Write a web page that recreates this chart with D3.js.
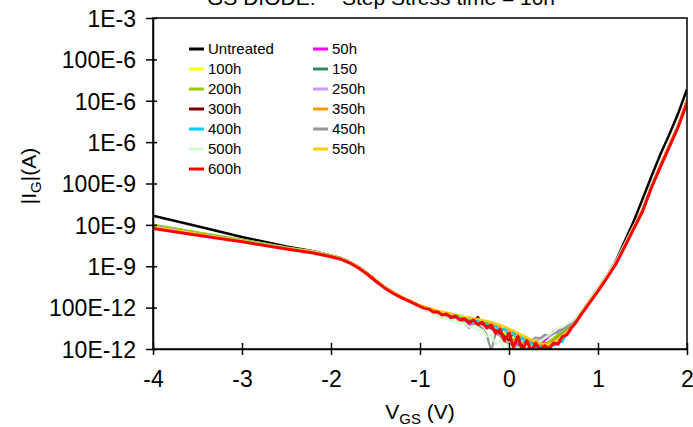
<!DOCTYPE html>
<html><head><meta charset="utf-8">
<script src="https://cdn.jsdelivr.net/npm/d3@7"></script>
<style>
body{margin:0;background:#fff}
svg{display:block}
text{font-family:"Liberation Sans",Arial,Helvetica,sans-serif;fill:#000}
</style>
</head><body>
<svg id="chart" width="693" height="427"></svg>
<script>
// ---------------- DATA ----------------
const vgs = [-4,-3.5,-3,-2.5,-2.2,-2,-1.9,-1.8,-1.7,-1.6,-1.5,-1.4,-1.3,-1.2,-1.1,
  -1,-0.95,-0.9,-0.85,-0.8,-0.75,-0.7,-0.65,-0.6,-0.55,-0.5,-0.45,-0.4,-0.35,-0.3,-0.25,-0.2,-0.15,-0.1,-0.05,
  0,0.05,0.1,0.15,0.2,0.25,0.3,0.35,0.4,0.45,0.5,0.55,0.6,0.65,0.7,0.75,
  0.8,0.9,1,1.1,1.2,1.3,1.4,1.5,1.6,1.7,1.8,1.9,2];

const seriesNames  = ["Untreated","50h","100h","150","200h","250h","300h","350h","400h","450h","500h","550h","600h"];
const seriesColors = ["#000000","#ff00ff","#ffff00","#2e8b57","#99cc00","#cc99ff","#800000","#ff9900","#00ccff","#969696","#ccffcc","#ffcc00","#ff0000"];

const iUntreated = [1.66e-8,9.3e-9,5.1e-9,3.0e-9,2.3e-9,1.82e-9,1.58e-9,1.3e-9,9.8e-10,7.0e-10,4.6e-10,3.1e-10,2.3e-10,1.75e-10,1.4e-10,
  1.1e-10,9.9e-11,9.4e-11,8.2e-11,8.0e-11,7.0e-11,7.1e-11,6.0e-11,6.4e-11,5.3e-11,5.6e-11,4.5e-11,5.0e-11,4.1e-11,4.5e-11,3.4e-11,3.6e-11,2.6e-11,2.9e-11,1.9e-11,
  2.2e-11,1.4e-11,1.7e-11,1.2e-11,1.4e-11,1.1e-11,1.3e-11,1.1e-11,1.3e-11,1.3e-11,1.6e-11,1.8e-11,2.3e-11,2.8e-11,3.6e-11,4.8e-11,
  6.8e-11,1.35e-10,2.8e-10,5.8e-10,1.32e-9,4.0e-9,1.2e-8,4.2e-8,1.48e-7,5.0e-7,1.5e-6,4.9e-6,1.9e-5];
const i50h = [9.6e-9,6.3e-9,4.3e-9,2.8e-9,2.25e-9,1.82e-9,1.6e-9,1.31e-9,1.0e-9,7.1e-10,4.7e-10,3.2e-10,2.3e-10,1.78e-10,1.4e-10,
  1.1e-10,1.0e-10,9.0e-11,8.6e-11,7.6e-11,7.4e-11,6.6e-11,6.5e-11,5.8e-11,5.7e-11,4.9e-11,3.5e-11,4.6e-11,4.3e-11,3.9e-11,3.6e-11,3.1e-11,2.8e-11,2.3e-11,2.0e-11,
  1.7e-11,1.6e-11,1.3e-11,1.2e-11,1.1e-11,1.2e-11,1.3e-11,1.4e-11,1.6e-11,2.0e-11,2.6e-11,3.0e-11,3.1e-11,3.6e-11,4.2e-11,5.4e-11,
  7.2e-11,1.45e-10,2.9e-10,6.0e-10,1.28e-9,3.4e-9,9.0e-9,2.4e-8,9.0e-8,2.85e-7,8.6e-7,2.6e-6,1.08e-5];
const i100h = [9.8e-9,6.4e-9,4.3e-9,2.8e-9,2.25e-9,1.8e-9,1.58e-9,1.3e-9,9.9e-10,7.0e-10,4.65e-10,3.15e-10,2.3e-10,1.77e-10,1.4e-10,
  1.12e-10,1.02e-10,9.4e-11,8.7e-11,8.0e-11,7.5e-11,7.0e-11,6.6e-11,6.2e-11,5.8e-11,5.4e-11,5.1e-11,4.9e-11,4.6e-11,4.3e-11,3.9e-11,3.5e-11,3.1e-11,2.7e-11,2.4e-11,
  2.1e-11,1.8e-11,1.6e-11,1.5e-11,1.4e-11,1.3e-11,1.25e-11,1.2e-11,1.3e-11,1.5e-11,1.8e-11,2.2e-11,2.7e-11,3.3e-11,4.0e-11,5.2e-11,
  7.0e-11,1.4e-10,2.8e-10,5.7e-10,1.2e-9,3.2e-9,8.6e-9,2.3e-8,8.6e-8,2.75e-7,8.4e-7,2.55e-6,1.05e-5];
const i150 = [9.5e-9,6.2e-9,4.25e-9,2.78e-9,2.25e-9,1.8e-9,1.57e-9,1.29e-9,9.8e-10,6.9e-10,4.6e-10,3.1e-10,2.28e-10,1.75e-10,1.39e-10,
  1.09e-10,9.9e-11,9.1e-11,8.4e-11,7.7e-11,7.2e-11,6.7e-11,6.3e-11,5.9e-11,5.5e-11,5.1e-11,4.8e-11,4.6e-11,4.3e-11,4.0e-11,3.6e-11,3.2e-11,2.8e-11,2.4e-11,2.1e-11,
  1.8e-11,1.6e-11,1.4e-11,1.3e-11,1.2e-11,1.15e-11,1.1e-11,1.15e-11,1.25e-11,1.45e-11,1.75e-11,2.1e-11,2.6e-11,3.2e-11,3.9e-11,5.0e-11,
  6.9e-11,1.38e-10,2.75e-10,5.6e-10,1.18e-9,3.1e-9,8.4e-9,2.25e-8,8.4e-8,2.7e-7,8.2e-7,2.5e-6,1.02e-5];
const i200h = [1.02e-8,6.6e-9,4.4e-9,2.85e-9,2.3e-9,1.83e-9,1.6e-9,1.31e-9,1.0e-9,7.1e-10,4.7e-10,3.2e-10,2.33e-10,1.78e-10,1.41e-10,
  1.1e-10,1.0e-10,9.2e-11,8.5e-11,7.8e-11,7.3e-11,6.8e-11,6.4e-11,6.0e-11,5.6e-11,5.2e-11,4.9e-11,4.6e-11,4.4e-11,4.0e-11,3.7e-11,3.3e-11,2.9e-11,2.5e-11,2.2e-11,
  1.9e-11,1.7e-11,1.5e-11,1.4e-11,1.3e-11,1.2e-11,1.2e-11,1.2e-11,1.3e-11,1.5e-11,1.8e-11,2.2e-11,2.7e-11,3.3e-11,4.0e-11,5.2e-11,
  7.0e-11,1.4e-10,2.8e-10,5.7e-10,1.22e-9,3.2e-9,8.7e-9,2.3e-8,8.6e-8,2.78e-7,8.4e-7,2.55e-6,1.05e-5];
const i250h = [9.5e-9,6.2e-9,4.2e-9,2.78e-9,2.26e-9,1.81e-9,1.59e-9,1.3e-9,9.9e-10,7.0e-10,4.7e-10,3.18e-10,2.32e-10,1.78e-10,1.41e-10,
  1.1e-10,1.0e-10,9.3e-11,8.4e-11,7.9e-11,7.2e-11,6.9e-11,6.2e-11,6.1e-11,5.4e-11,5.2e-11,4.6e-11,4.5e-11,4.1e-11,4.0e-11,3.4e-11,3.3e-11,2.7e-11,2.5e-11,2.0e-11,
  1.9e-11,1.5e-11,1.5e-11,1.2e-11,1.3e-11,1.2e-11,1.5e-11,1.8e-11,2.1e-11,2.0e-11,2.3e-11,2.5e-11,2.9e-11,3.5e-11,4.1e-11,5.3e-11,
  7.4e-11,1.5e-10,3.0e-10,6.1e-10,1.3e-9,3.5e-9,9.2e-9,2.45e-8,9.2e-8,2.9e-7,8.7e-7,2.65e-6,1.08e-5];
const i300h = [9.0e-9,6.0e-9,4.1e-9,2.7e-9,2.2e-9,1.78e-9,1.56e-9,1.28e-9,9.7e-10,6.9e-10,4.6e-10,3.1e-10,2.28e-10,1.75e-10,1.38e-10,
  1.08e-10,9.8e-11,9.1e-11,8.3e-11,7.7e-11,7.2e-11,6.7e-11,6.3e-11,5.9e-11,5.5e-11,5.1e-11,4.8e-11,4.6e-11,6.0e-11,4.0e-11,3.6e-11,3.2e-11,2.8e-11,2.4e-11,2.0e-11,
  1.6e-11,2.5e-11,1.5e-11,1.2e-11,1.1e-11,1.6e-11,1.1e-11,1.0e-11,1.4e-11,1.2e-11,1.5e-11,1.8e-11,2.2e-11,2.7e-11,3.3e-11,4.3e-11,
  6.8e-11,1.36e-10,2.7e-10,5.5e-10,1.17e-9,3.1e-9,8.3e-9,2.2e-8,8.3e-8,2.65e-7,8.1e-7,2.45e-6,1.0e-5];
const i350h = [9.2e-9,6.1e-9,4.2e-9,2.75e-9,2.24e-9,1.8e-9,1.58e-9,1.3e-9,9.9e-10,7.0e-10,4.7e-10,3.2e-10,2.33e-10,1.8e-10,1.43e-10,
  1.12e-10,1.04e-10,9.6e-11,9.0e-11,8.3e-11,7.9e-11,7.4e-11,7.0e-11,6.6e-11,6.2e-11,5.9e-11,5.6e-11,5.4e-11,5.0e-11,4.8e-11,4.4e-11,4.3e-11,3.6e-11,3.4e-11,2.8e-11,
  2.9e-11,2.2e-11,2.4e-11,1.7e-11,1.9e-11,1.4e-11,1.6e-11,1.2e-11,1.4e-11,1.2e-11,1.5e-11,1.7e-11,2.1e-11,2.6e-11,3.2e-11,4.3e-11,
  6.9e-11,1.38e-10,2.75e-10,5.6e-10,1.19e-9,3.15e-9,8.5e-9,2.28e-8,8.5e-8,2.72e-7,8.3e-7,2.5e-6,1.03e-5];
const i400h = [9.3e-9,6.2e-9,4.25e-9,2.78e-9,2.26e-9,1.81e-9,1.59e-9,1.3e-9,9.9e-10,7.0e-10,4.68e-10,3.16e-10,2.31e-10,1.77e-10,1.4e-10,
  1.1e-10,1.0e-10,9.1e-11,8.6e-11,7.8e-11,7.4e-11,6.7e-11,6.5e-11,5.9e-11,5.8e-11,5.1e-11,5.2e-11,4.5e-11,4.9e-11,4.0e-11,4.1e-11,3.3e-11,3.6e-11,2.6e-11,3.2e-11,
  2.0e-11,2.6e-11,1.4e-11,1.9e-11,1.1e-11,1.5e-11,1.0e-11,1.2e-11,9.5e-12,1.1e-11,1.2e-11,1.4e-11,1.5e-11,2.4e-11,3.2e-11,4.4e-11,
  6.6e-11,1.33e-10,2.65e-10,5.4e-10,1.15e-9,3.05e-9,8.2e-9,2.2e-8,8.2e-8,2.62e-7,8.0e-7,2.4e-6,9.8e-6];
const i450h = [9.4e-9,6.2e-9,4.2e-9,2.76e-9,2.24e-9,1.8e-9,1.57e-9,1.29e-9,9.8e-10,6.9e-10,4.6e-10,3.1e-10,2.27e-10,1.74e-10,1.37e-10,
  1.05e-10,9.6e-11,8.3e-11,8.2e-11,6.9e-11,7.0e-11,6.3e-11,6.1e-11,5.4e-11,5.2e-11,4.4e-11,3.2e-11,4.2e-11,3.8e-11,3.2e-11,2.2e-11,9e-12,2.4e-11,2.1e-11,1.5e-11,
  1.4e-11,1.0e-11,1.2e-11,9e-12,1.3e-11,1.6e-11,1.9e-11,1.8e-11,2.2e-11,2.1e-11,2.4e-11,2.6e-11,3.0e-11,3.5e-11,4.2e-11,5.3e-11,
  7.2e-11,1.45e-10,2.9e-10,5.9e-10,1.25e-9,3.3e-9,8.9e-9,2.38e-8,8.9e-8,2.82e-7,8.5e-7,2.6e-6,1.06e-5];
const i500h = [9.0e-9,6.0e-9,4.1e-9,2.72e-9,2.22e-9,1.79e-9,1.56e-9,1.28e-9,9.7e-10,6.9e-10,4.6e-10,3.1e-10,2.26e-10,1.72e-10,1.35e-10,
  1.0e-10,8.8e-11,8.0e-11,7.0e-11,6.6e-11,5.7e-11,5.6e-11,4.7e-11,5.0e-11,4.1e-11,4.3e-11,3.4e-11,3.6e-11,2.8e-11,2.9e-11,2.0e-11,2.2e-11,1.3e-11,1.6e-11,9e-12,
  1.3e-11,9.5e-12,1.1e-11,1.0e-11,1.2e-11,1.1e-11,1.3e-11,1.5e-11,1.8e-11,2.2e-11,2.6e-11,3.1e-11,3.4e-11,4.0e-11,4.6e-11,5.8e-11,
  7.6e-11,1.5e-10,2.95e-10,6.0e-10,1.27e-9,3.35e-9,9.0e-9,2.4e-8,9.0e-8,2.85e-7,8.6e-7,2.6e-6,1.07e-5];
const i550h = [9.1e-9,6.1e-9,4.15e-9,2.74e-9,2.23e-9,1.8e-9,1.58e-9,1.3e-9,9.9e-10,7.0e-10,4.7e-10,3.2e-10,2.34e-10,1.8e-10,1.43e-10,
  1.13e-10,1.05e-10,9.7e-11,9.1e-11,8.4e-11,8.0e-11,7.6e-11,7.2e-11,6.8e-11,6.4e-11,6.0e-11,5.8e-11,5.5e-11,5.3e-11,5.0e-11,4.8e-11,4.5e-11,4.2e-11,3.8e-11,3.5e-11,
  3.1e-11,2.8e-11,2.4e-11,2.2e-11,1.9e-11,1.7e-11,1.5e-11,1.4e-11,1.3e-11,1.3e-11,1.5e-11,1.8e-11,2.2e-11,2.7e-11,3.3e-11,4.3e-11,
  6.9e-11,1.38e-10,2.75e-10,5.6e-10,1.19e-9,3.15e-9,8.5e-9,2.28e-8,8.5e-8,2.72e-7,8.3e-7,2.5e-6,1.03e-5];
const i600h = [8.2e-9,5.6e-9,3.9e-9,2.6e-9,2.1e-9,1.7e-9,1.5e-9,1.23e-9,9.3e-10,6.6e-10,4.4e-10,3.0e-10,2.2e-10,1.7e-10,1.35e-10,
  1.07e-10,9.6e-11,9.2e-11,7.8e-11,7.9e-11,6.6e-11,7.0e-11,5.7e-11,6.3e-11,5.0e-11,5.4e-11,4.3e-11,5.0e-11,3.9e-11,4.4e-11,3.2e-11,3.8e-11,2.4e-11,3.0e-11,1.6e-11,
  2.4e-11,1.1e-11,2.0e-11,9e-12,1.6e-11,9e-12,1.4e-11,9.5e-12,1.2e-11,1.0e-11,1.4e-11,1.3e-11,2.0e-11,2.2e-11,3.2e-11,4.3e-11,
  6.3e-11,1.26e-10,2.5e-10,5.2e-10,1.12e-9,2.95e-9,7.9e-9,2.1e-8,7.9e-8,2.5e-7,7.6e-7,2.3e-6,8.9e-6];

const seriesValues = [iUntreated,i50h,i100h,i150,i200h,i250h,i300h,i350h,i400h,i450h,i500h,i550h,i600h];

const xTickValues = [-4,-3,-2,-1,0,1,2];
const xTickLabels = ["-4","-3","-2","-1","0","1","2"];
const yTickValues = [1e-11,1e-10,1e-9,1e-8,1e-7,1e-6,1e-5,1e-4,1e-3];
const yTickLabels = ["10E-12","100E-12","1E-9","10E-9","100E-9","1E-6","10E-6","100E-6","1E-3"];

// ---------------- CHART ----------------
const svg = d3.select("#chart");
const L = 153, R = 687, T = 18, B = 349;
const x = d3.scaleLinear().domain([-4, 2]).range([L, R]);
const y = d3.scaleLog().domain([1e-11, 1e-3]).range([B, T]);

svg.append("defs").append("clipPath").attr("id", "plotclip")
  .append("rect").attr("x", L).attr("y", T).attr("width", R - L).attr("height", B - T);

// title (partially cut off at top, as in the reference)
svg.append("text").attr("x", 207).attr("y", 5).attr("font-size", 21).text("GS DIODE:");
svg.append("text").attr("x", 342).attr("y", 5).attr("font-size", 21).text("Step Stress time = 10h");

// series lines
const line = d3.line().x((d, i) => x(vgs[i])).y(d => y(d));
const g = svg.append("g").attr("clip-path", "url(#plotclip)");
seriesValues.forEach((vals, k) => {
  g.append("path")
    .attr("d", line(vals))
    .attr("fill", "none")
    .attr("stroke", seriesColors[k])
    .attr("stroke-width", k === 12 ? 3 : (k === 0 ? 2.5 : 2.2))
    .attr("stroke-linejoin", "round");
});

// frame
svg.append("rect").attr("x", L).attr("y", T).attr("width", R - L).attr("height", B - T)
  .attr("fill", "none").attr("stroke", "#000").attr("stroke-width", 1.5);

// x axis
const xAxis = svg.append("g").attr("transform", `translate(0,${B})`)
  .call(d3.axisBottom(x).tickValues(xTickValues).tickFormat((d, i) => xTickLabels[i]).tickSizeOuter(0));
xAxis.select(".domain").attr("stroke-width", 1.5);
xAxis.selectAll(".tick line").attr("y1", -6).attr("y2", 6).attr("stroke-width", 1.5);
xAxis.selectAll(".tick text").attr("y", 38).attr("dy", 0).attr("font-size", 23)
  .attr("font-family", "Liberation Sans, Arial, sans-serif").attr("fill", "#000");

// y axis
const yAxis = svg.append("g").attr("transform", `translate(${L},0)`)
  .call(d3.axisLeft(y).tickValues(yTickValues).tickFormat((d, i) => yTickLabels[i]).tickSizeOuter(0));
yAxis.select(".domain").attr("stroke-width", 1.5);
yAxis.selectAll(".tick line").attr("x1", -7).attr("x2", 4).attr("stroke-width", 1.5);
yAxis.selectAll(".tick text").attr("x", -17).attr("dy", "0.36em").attr("font-size", 23)
  .attr("font-family", "Liberation Sans, Arial, sans-serif").attr("fill", "#000");

// axis titles
const xt = svg.append("text").attr("x", 420).attr("y", 419).attr("text-anchor", "middle").attr("font-size", 21);
xt.append("tspan").text("V");
xt.append("tspan").attr("font-size", 15).attr("dy", 5).text("GS");
xt.append("tspan").attr("dy", -5).text(" (V)");

const yt = svg.append("text").attr("transform", "translate(36,176) rotate(-90)").attr("text-anchor", "middle").attr("font-size", 21);
yt.append("tspan").text("|I");
yt.append("tspan").attr("font-size", 15).attr("dy", 5).text("G");
yt.append("tspan").attr("dy", -5).text("|(A)");

// legend
const leg = svg.append("g");
seriesNames.forEach((name, k) => {
  const col = k === 0 ? 0 : (k % 2 === 1 ? 1 : 0);
  const row = k === 0 ? 0 : (col === 1 ? (k - 1) / 2 : k / 2);
  const lx = col === 0 ? 189 : 313;
  const ly = 49 + row * 20;
  leg.append("line").attr("x1", lx).attr("x2", lx + 15).attr("y1", ly).attr("y2", ly)
    .attr("stroke", seriesColors[k]).attr("stroke-width", 3);
  leg.append("text").attr("x", lx + 19).attr("y", ly).attr("dy", "0.35em").attr("font-size", 15).text(name);
});
</script>
</body></html>
